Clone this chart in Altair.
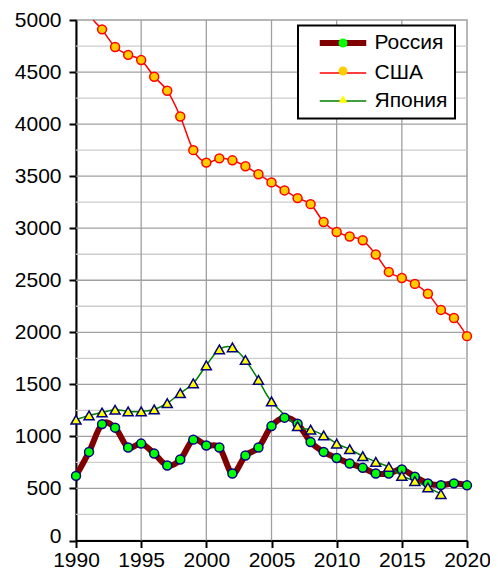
import altair as alt
import pandas as pd

years = list(range(1990, 2021))
series_names = ["Россия", "США", "Япония"]

russia = [621, 851, 1118, 1084, 893, 931, 835, 721, 778, 969, 912, 893, 644, 816, 893,
          1099, 1180, 1122, 946, 851, 793, 740, 698, 644, 644, 683, 612, 549, 532, 549, 530]
usa = [5600, 5080, 4910, 4740, 4665, 4615, 4455, 4321, 4073, 3750, 3630, 3671, 3652, 3595, 3518,
       3440, 3363, 3289, 3231, 3059, 2964, 2920, 2884, 2748, 2580, 2522, 2465, 2370, 2215, 2137, 1963]
japan = [1160, 1202, 1230, 1256, 1240, 1240, 1259, 1319, 1415, 1510, 1683, 1836, 1855, 1734, 1543,
         1336, None, 1099, 1065, 1010, 931, 877, 810, 755, 707, 621, 571, 510, 446, None, None]

x_ticks = list(range(1990, 2021, 5))
y_ticks = list(range(0, 5001, 250))

rows = []
for name, vals in zip(series_names, [russia, usa, japan]):
    for yr, v in zip(years, vals):
        if v is not None:
            rows.append({"year": yr, "value": v, "series": name, "series_m": name})
df = pd.DataFrame(rows)

x_grid = pd.DataFrame({"v": [t for t in x_ticks if 1990 < t < 2020]})
y_grid = pd.DataFrame({"v": [t for t in y_ticks if 0 < t < 5000]})

FONT = "Liberation Sans"

x_scale = alt.Scale(domain=[1990, 2020], nice=False, zero=False)
y_scale = alt.Scale(domain=[0, 5000], nice=False)
x_axis = alt.Axis(values=x_ticks, format="d", title=None, labelPadding=1.5,
                  labelFlush=False, labelOverlap=False, grid=False)
y_axis = alt.Axis(values=y_ticks, title=None, labelPadding=8, grid=False,
                  labelFlush=False, labelOverlap=False,
                  labelExpr="datum.value % 500 === 0 ? datum.label : ''",
                  labelOffset={"condition": {"test": "datum.value === 0", "value": -4},
                               "value": 0},
                  tickOpacity={"condition": {"test": "datum.value % 500 === 0", "value": 1},
                               "value": 0},
                  format="d")

x_enc = alt.X("year:Q", scale=x_scale, axis=x_axis)
y_enc = alt.Y("value:Q", scale=y_scale, axis=y_axis)

common_legend = dict(orient="none", legendX=222, legendY=5.5, title=None, direction="vertical",
                     symbolSize=80, symbolOffset=27.5, labelOffset=21, labelFont=FONT,
                     labelFontSize=21, labelColor="black", padding=7, rowPadding=6,
                     labelLimit=300)

line_legend = alt.Legend(
    symbolType="M-5.2,0H5.2", strokeColor="black", fillColor="white", zindex=1,
    symbolStrokeWidth=alt.ExprRef(expr="datum.value === 'Россия' ? 6 : 1.6"),
    **common_legend)

pt_legend = alt.Legend(
    labelExpr="''", zindex=2, symbolStrokeWidth=1.5, symbolOpacity=1,
    symbolStrokeColor=alt.ExprRef(expr="datum.value === 'США' ? '#ff0000' : '#000080'"),
    **common_legend)

vgrid = alt.Chart(x_grid).mark_rule(strokeWidth=1.3, color="#a0a0a0").encode(
    x=alt.X("v:Q", scale=x_scale, axis=x_axis),
)
hgrid = alt.Chart(y_grid).mark_rule(strokeWidth=1.3).encode(
    y=alt.Y("v:Q", scale=y_scale, axis=y_axis),
    color=alt.condition("datum.v % 500 === 0", alt.value("#a0a0a0"), alt.value("#cccccc")),
)

lines = alt.Chart(df).mark_line(interpolate="cardinal", clip=True).encode(
    x=x_enc, y=y_enc,
    stroke=alt.Stroke("series:N", scale=alt.Scale(range=["#800000", "#ff0000", "#008000"]),
                      legend=line_legend),
    strokeWidth=alt.condition(alt.datum.series == "Россия", alt.value(6), alt.value(1.5)),
    order="year:Q",
)

points = alt.Chart(df).transform_filter(
    alt.datum.value <= 5000
).mark_point(filled=True, opacity=1, strokeWidth=1.5).encode(
    x=x_enc, y=y_enc,
    fill=alt.Fill("series_m:N", scale=alt.Scale(range=["#00ff00", "#ffcc00", "#ffff00"]),
                  legend=pt_legend),
    shape=alt.Shape("series_m:N", scale=alt.Scale(range=["circle", "circle", "triangle-up"]),
                    legend=pt_legend),
    stroke=alt.condition(alt.datum.series_m == "США", alt.value("#ff0000"), alt.value("#000080")),
    size=alt.condition(alt.datum.series_m == "Япония", alt.value(100), alt.value(80)),
)

chart = alt.layer(hgrid, vgrid, lines, points).properties(
    width=391, height=520.5, autosize="none",
    padding={"left": 68, "top": 12, "right": 23, "bottom": 30.5},
).configure_view(
    stroke="#a0a0a0", strokeWidth=1.5,
).configure_axis(
    domainColor="black", domainWidth=2, tickColor="black", tickWidth=2, tickSize=7,
    labelFont=FONT, labelFontSize=21, labelColor="black",
).configure_legend(
    strokeWidth=2,
)

chart.save("out.html", embed_options={"renderer": "svg", "actions": False})
